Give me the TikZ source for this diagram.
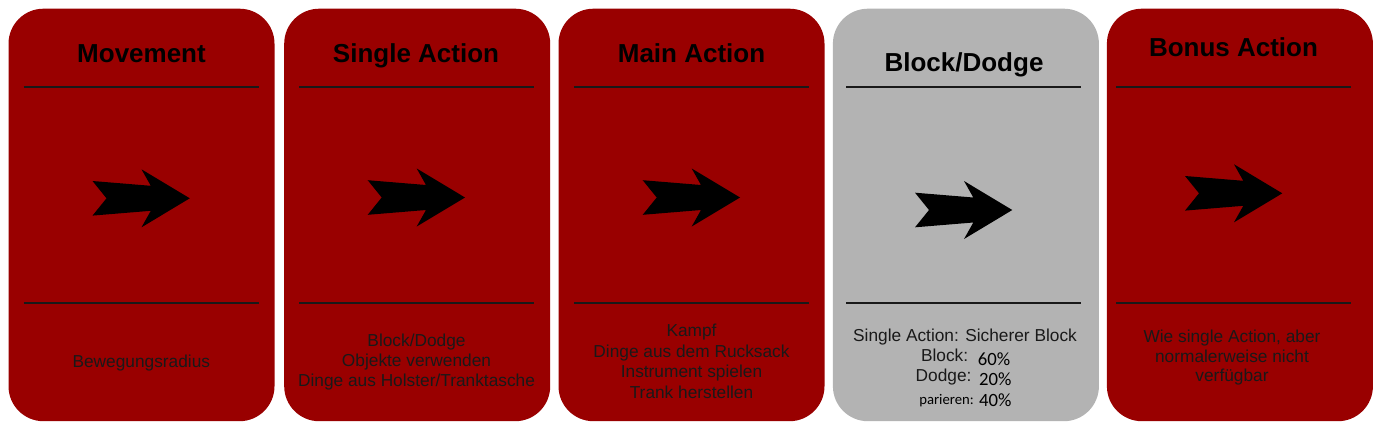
\documentclass[tikz,border=0pt]{standalone}
\usepackage{fontspec}
\setmainfont{Liberation Sans}
\newfontfamily\calib{Carlito}
\definecolor{cardred}{HTML}{990000}
\definecolor{cardgray}{HTML}{B3B3B3}
\newcommand\cardarrow[2]{\fill[black,shift={(#1,#2)}] (0,0) -- (-48.3,29) -- (-39,12.5) -- (-97.3,17.3) -- (-83.3,0) -- (-97.3,-17.3) -- (-39,-12.5) -- (-48.3,-29) -- cycle;}
\newcommand\cardrules[1]{\draw[rulestyle] (#1-117.5,87.3) -- (#1+117.5,87.3); \draw[rulestyle] (#1-117.5,302.7) -- (#1+117.5,302.7);}
\tikzset{
 card/.style={rounded corners=35pt, minimum width=266pt, minimum height=412.5pt, inner sep=0pt, anchor=north west},
 redcard/.style={card, fill=cardred},
 graycard/.style={card, fill=cardgray},
 rulestyle/.style={line width=2pt, draw=black!90},
 ttl/.style={font=\fontsize{26}{30}\selectfont\bfseries, inner sep=0pt, anchor=base, text=black},
 txt/.style={font=\fontsize{17.3}{20.5}\selectfont, inner sep=0pt, anchor=base, text=black!90},
 lbl/.style={txt, anchor=base east},
 pct/.style={font=\calib\fontsize{18.7}{22}\selectfont, inner sep=0pt, anchor=base west, text=black},
}
\begin{document}
\begin{tikzpicture}[x=1pt,y=-1pt]
\useasboundingbox (0,0) rectangle (1380,429);
% cards
\node[redcard] (card1) at (8.3,8.5) {};
\node[redcard] (card2) at (284,8.5) {};
\node[redcard] (card3) at (558.3,8.5) {};
\node[graycard] (card4) at (832.7,8.5) {};
\node[redcard] (card5) at (1106.7,8.5) {};
% rules
\cardrules{141.3}
\cardrules{416.5}
\cardrules{691.5}
\cardrules{963.5}
\cardrules{1233.5}
% titles
\node[ttl] (t1) at (141.5,62.7) {Movement};
\node[ttl] (t2) at (416,62.7) {Single Action};
\node[ttl] (t3) at (691.5,62.7) {Main Action};
\node[ttl] (t4) at (964,71.7) {Block/Dodge};
\node[ttl] (t5) at (1233.5,56.7) {Bonus Action};
% arrows
\cardarrow{189.8}{198.3}
\cardarrow{465}{197.5}
\cardarrow{740}{197.5}
\cardarrow{1012.3}{210}
\cardarrow{1282.3}{193.3}
% bottom texts
\node[txt] (b1) at (141.3,367.3) {Bewegungsradius};
\node[txt] (b2a) at (416.5,346) {Block/Dodge};
\node[txt] (b2b) at (416.5,366) {Objekte verwenden};
\node[txt] (b2c) at (416.5,386) {Dinge aus Holster/Tranktasche};
\node[txt] (b3a) at (691.5,336.7) {Kampf};
\node[txt] (b3b) at (691.5,357.2) {Dinge aus dem Rucksack};
\node[txt] (b3c) at (691.5,377.7) {Instrument spielen};
\node[txt] (b3d) at (691.5,398.3) {Trank herstellen};
\node[txt] (b4a) at (965,341.7) {Single Action: Sicherer Block};
\node[lbl] (b4b) at (968.3,361.7) {Block:};
\node[lbl] (b4c) at (971.7,381.7) {Dodge:};
\node[font=\calib\fontsize{14.7}{17}\selectfont, inner sep=0pt, anchor=base east, text=black] (b4d) at (974,404) {parieren:};
\node[pct] (p1) at (977.7,365) {60\%};
\node[pct] (p2) at (979,385) {20\%};
\node[pct] (p3) at (979,406.7) {40\%};
\node[txt] (b5a) at (1232,342.7) {Wie single Action, aber};
\node[txt] (b5b) at (1232,362.7) {normalerweise nicht};
\node[txt] (b5c) at (1232,381.7) {verfügbar};
\end{tikzpicture}
\end{document}
